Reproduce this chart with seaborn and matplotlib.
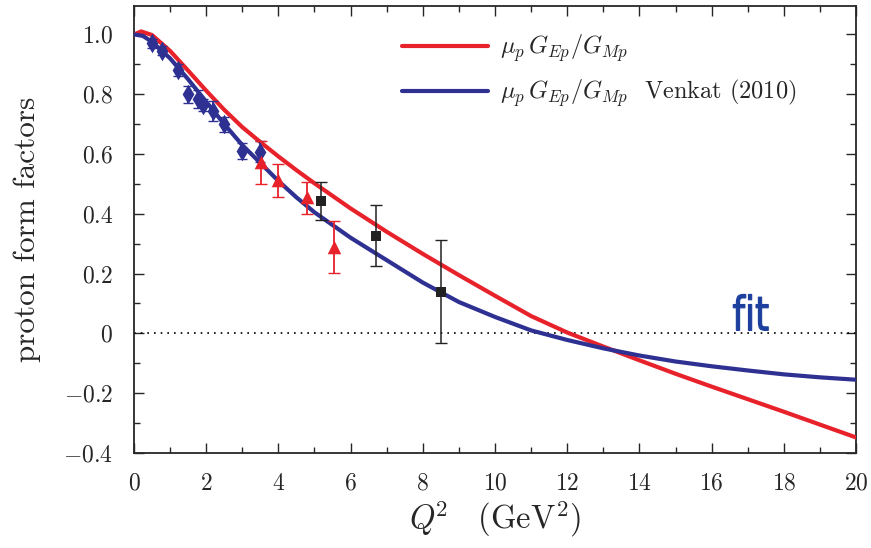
import matplotlib
matplotlib.use("Agg")
import matplotlib.pyplot as plt
import numpy as np
import seaborn as sns
from matplotlib.ticker import MultipleLocator
from matplotlib.textpath import TextPath
from matplotlib.patches import PathPatch
from matplotlib.font_manager import FontProperties
from matplotlib.transforms import Affine2D, ScaledTranslation

# 曲线数据
red_q2 = [0, 0.2, 0.5, 1, 1.5, 2, 2.5, 3, 3.5, 4, 4.5, 5, 6, 7, 8, 9, 10, 11,
          12, 13, 14, 15, 16, 17, 18, 19, 20]
red_ff = [1.0, 1.01, 0.998, 0.945, 0.879, 0.812, 0.748, 0.69, 0.64, 0.592, 0.546,
          0.502, 0.418, 0.340, 0.266, 0.195, 0.126, 0.058, 0.003, -0.044, -0.09,
          -0.135, -0.178, -0.22, -0.262, -0.305, -0.348]

blue_q2 = [0, 0.25, 0.5, 1, 1.5, 2, 2.5, 3, 3.5, 4, 4.5, 5, 6, 7, 8, 9, 10, 11,
           12, 13, 14, 15, 16, 17, 18, 19, 20]
blue_ff = [1.0, 0.995, 0.975, 0.92, 0.85, 0.775, 0.70, 0.63, 0.57, 0.51, 0.455,
           0.405, 0.32, 0.245, 0.17, 0.105, 0.055, 0.01, -0.022, -0.05, -0.074,
           -0.094, -0.11, -0.124, -0.137, -0.147, -0.155]

# 实验点
dia_q2 = [0.5, 0.78, 1.21, 1.5, 1.78, 1.9, 2.18, 2.49, 2.99, 3.49]
dia_ff = [0.97, 0.946, 0.88, 0.80, 0.785, 0.765, 0.745, 0.70, 0.61, 0.607]
dia_err = [0.015, 0.015, 0.02, 0.028, 0.03, 0.02, 0.033, 0.025, 0.028, 0.035]

tri_q2 = [3.51, 4.0, 4.78, 5.55]
tri_ff = [0.574, 0.513, 0.455, 0.289]
tri_lo = [0.501, 0.455, 0.401, 0.203]
tri_hi = [0.644, 0.568, 0.505, 0.375]

sq_q2 = [5.17, 6.70, 8.50]
sq_ff = [0.443, 0.327, 0.138]
sq_lo = [0.379, 0.226, -0.032]
sq_hi = [0.507, 0.429, 0.312]

RED = "#e8222b"
BLUE = "#2e3192"

sns.set_style("ticks")
plt.rcParams["font.family"] = "serif"
plt.rcParams["font.serif"] = ["cmr10", "DejaVu Serif"]
plt.rcParams["mathtext.fontset"] = "cm"
plt.rcParams["axes.unicode_minus"] = False

fig = plt.figure(figsize=(8.71, 5.48), dpi=100)
ax = fig.add_axes([0.1538, 0.1734, 0.8290, 0.8156])

ax.axhline(0, color="black", ls=(0, (1, 3)), lw=1.2, zorder=1)

sns.lineplot(x=red_q2, y=red_ff, ax=ax, color=RED, lw=3,
             label=r"$\mu_p\,G_{Ep}/G_{Mp}$", zorder=3)
sns.lineplot(x=blue_q2, y=blue_ff, ax=ax, color=BLUE, lw=3,
             label=r"$\mu_p\,G_{Ep}/G_{Mp}$  Venkat (2010)", zorder=3)

# 误差棒
ax.errorbar(dia_q2, dia_ff, yerr=dia_err, fmt="none", ecolor=BLUE,
            elinewidth=1.3, capsize=3.5, zorder=4)
ax.errorbar(tri_q2, tri_ff,
            yerr=[np.subtract(tri_ff, tri_lo), np.subtract(tri_hi, tri_ff)],
            fmt="none", ecolor=RED, elinewidth=1.3, capsize=4, zorder=4)
ax.errorbar(sq_q2, sq_ff,
            yerr=[np.subtract(sq_ff, sq_lo), np.subtract(sq_hi, sq_ff)],
            fmt="none", ecolor="#222222", elinewidth=1.1, capsize=4, zorder=4)

sns.scatterplot(x=dia_q2, y=dia_ff, ax=ax, marker="d", s=100, color=BLUE,
                edgecolor=BLUE, linewidth=0, zorder=5)
sns.scatterplot(x=tri_q2, y=tri_ff, ax=ax, marker="^", s=95, color=RED,
                edgecolor=RED, linewidth=0, zorder=5)
sns.scatterplot(x=sq_q2, y=sq_ff, ax=ax, marker="s", s=50, color="#222222",
                edgecolor="#222222", linewidth=0, zorder=5)

ax.set_xlim(0, 20)
ax.set_ylim(-0.4, 1.095)

# 窄体 "fit" 字样
tp = TextPath((0, 0), "fit", size=1, prop=FontProperties(family="DejaVu Sans"))
ext = tp.get_extents()
fit_tr = (Affine2D().translate(-ext.x0, -ext.y0).scale(35 / ext.width, 36 / ext.height)
          + ScaledTranslation(16.6, 0.01, ax.transData))
ax.add_patch(PathPatch(tp, transform=fit_tr, facecolor="#1c3f9e",
                       edgecolor="#1c3f9e", lw=0.8, zorder=6))

ax.xaxis.set_minor_locator(MultipleLocator(1))
ax.yaxis.set_minor_locator(MultipleLocator(0.1))

yt = [-0.4, -0.2, 0, 0.2, 0.4, 0.6, 0.8, 1.0]
ax.set_yticks(yt)
ax.set_yticklabels([r"$-0.4$", r"$-0.2$", r"$0$", r"$0.2$", r"$0.4$",
                    r"$0.6$", r"$0.8$", r"$1.0$"])
xt = list(range(0, 21, 2))
ax.set_xticks(xt)
ax.set_xticklabels([rf"${v}$" for v in xt])

ax.tick_params(which="both", direction="in", top=True, right=True,
               labelsize=17, width=1.0)
ax.tick_params(which="major", length=7)
ax.tick_params(axis="x", which="major", pad=14)
ax.tick_params(axis="y", which="major", pad=15)
ax.tick_params(which="minor", length=4)
for s in ax.spines.values():
    s.set_linewidth(1.3)

ax.set_xlabel(r"$Q^{\!2}\quad(\mathrm{GeV}^2)$", fontsize=23.5, labelpad=3)
ax.set_ylabel("proton form factors", fontsize=22.5, labelpad=16)

ax.legend(loc="upper left", bbox_to_anchor=(0.371, 0.94), frameon=False,
          borderaxespad=0, borderpad=0, fontsize=17.5, handlelength=3.55,
          handletextpad=0.5, labelspacing=0.55)

fig.savefig("out.png", dpi=100)
